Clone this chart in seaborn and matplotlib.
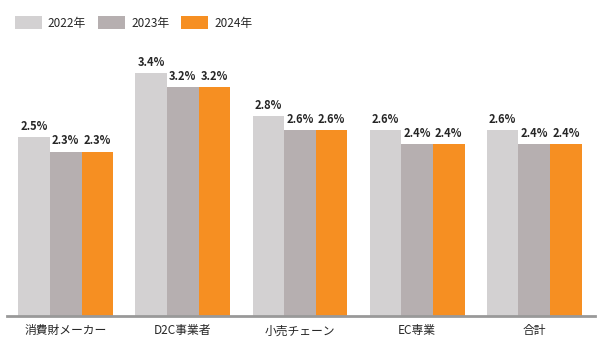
import pandas as pd
import seaborn as sns
import matplotlib.pyplot as plt

# Data
categories = ["消費財メーカー", "D2C事業者", "小売チェーン", "EC専業", "合計"]
years = ["2022年", "2023年", "2024年"]
vals_2022 = [2.5, 3.4, 2.8, 2.6, 2.6]
vals_2023 = [2.3, 3.2, 2.6, 2.4, 2.4]
vals_2024 = [2.3, 3.2, 2.6, 2.4, 2.4]
colors = ["#d3d1d2", "#b6afb0", "#f68f22"]

df = pd.DataFrame({
    "category": categories * 3,
    "year": [years[0]] * 5 + [years[1]] * 5 + [years[2]] * 5,
    "value": vals_2022 + vals_2023 + vals_2024,
})

sns.set_style("white")
plt.rcParams["font.family"] = ["Noto Sans CJK JP", "DejaVu Sans"]

fig = plt.figure(figsize=(6, 3.5), dpi=100)
ax = fig.add_axes([0.012, 0.097, 0.98, 0.817])

sns.barplot(data=df, x="category", y="value", hue="year", palette=colors,
            width=0.81, saturation=1, linewidth=0, ax=ax)

for cont in ax.containers:
    ax.bar_label(cont, fmt="%.1f%%", padding=3, fontsize=8, fontweight="bold")

ax.set_ylim(0, 4.0)
ax.set_xlim(-0.5, 4.52)
ax.set_xlabel("")
ax.set_ylabel("")
ax.set_yticks([])
ax.tick_params(axis="x", length=0, labelsize=8.5, pad=6)
for s in ["top", "right", "left"]:
    ax.spines[s].set_visible(False)
ax.spines["bottom"].set_color("#999999")
ax.spines["bottom"].set_linewidth(2)

ax.legend(loc="upper left", bbox_to_anchor=(-0.005, 1.085), ncol=3, frameon=False,
          fontsize=8.5, handlelength=2.3, handleheight=1.3, columnspacing=1.0,
          handletextpad=0.5)

fig.savefig("out.png", dpi=100)
